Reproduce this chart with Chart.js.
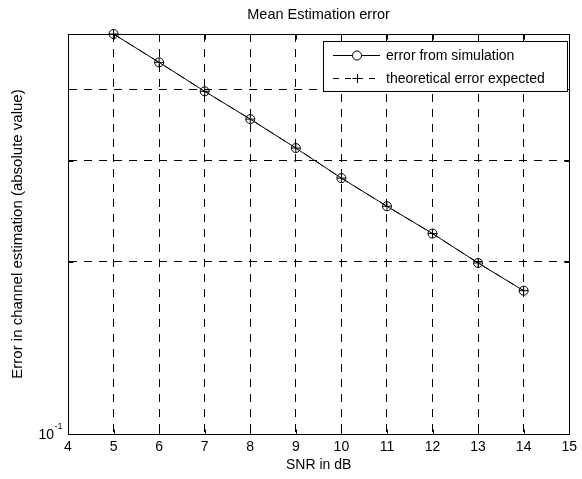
<!DOCTYPE html>
<html><head><meta charset="utf-8">
<script src="https://cdn.jsdelivr.net/npm/chart.js@4/dist/chart.umd.min.js"></script>
<style>html,body{margin:0;padding:0;background:#fff}#wrap{width:582px;height:479px;position:relative}</style>
</head><body><div id="wrap"><canvas id="c" width="582" height="479"></canvas></div>
<script>
const snrDb = [5, 6, 7, 8, 9, 10, 11, 12, 13, 14];
const simError = [0.500, 0.446, 0.397, 0.355, 0.316, 0.280, 0.250, 0.224, 0.199, 0.178];
const theoError = [0.500, 0.446, 0.397, 0.355, 0.316, 0.280, 0.250, 0.224, 0.199, 0.178];
const xTicks = [4, 5, 6, 7, 8, 9, 10, 11, 12, 13, 14, 15];
const yTicks = [0.1, 0.2, 0.3, 0.4, 0.5];
const yTickLabelBase = '10';
const yTickLabelExp = '-1';
const seriesLabels = ['error from simulation', 'theoretical error expected'];
const titleText = 'Mean Estimation error';
const xTitle = 'SNR in dB';
const yTitle = 'Error in channel estimation (absolute value)';

const FONT = 'Liberation Sans, Arial, sans-serif';
const DASH = [8, 7];

const decorPlugin = {
  id: 'decor',
  afterDraw(chart) {
    const ctx = chart.ctx;
    const ca = chart.chartArea;
    const xs = chart.scales.x, ys = chart.scales.y;
    ctx.save();
    ctx.strokeStyle = '#000';
    ctx.lineWidth = 1;
    ctx.setLineDash([]);
    const L = Math.round(ca.left) + 0.5, R = Math.round(ca.right) + 0.5;
    const T = Math.round(ca.top) + 0.5, B = Math.round(ca.bottom) + 0.5;
    ctx.strokeRect(L, T, R - L, B - T);
    ctx.beginPath();
    xTicks.forEach(v => {
      const px = Math.round(xs.getPixelForValue(v)) + 0.5;
      ctx.moveTo(px, B); ctx.lineTo(px, B - 5);
      ctx.moveTo(px, T); ctx.lineTo(px, T + 5);
    });
    yTicks.forEach(v => {
      const py = Math.round(ys.getPixelForValue(v)) + 0.5;
      ctx.moveTo(L, py); ctx.lineTo(L + 5, py);
      ctx.moveTo(R, py); ctx.lineTo(R - 5, py);
    });
    ctx.stroke();
    // y tick label 10^-1
    ctx.fillStyle = '#000';
    const y01 = ys.getPixelForValue(yTicks[0]);
    ctx.font = '14px ' + FONT;
    ctx.textAlign = 'right';
    ctx.textBaseline = 'middle';
    ctx.fillText(yTickLabelBase, 54, y01 + 1);
    ctx.font = '9px ' + FONT;
    ctx.textAlign = 'left';
    ctx.fillText(yTickLabelExp, 54.5, y01 - 7);
    // title
    ctx.font = '14.5px ' + FONT;
    ctx.textAlign = 'center';
    ctx.textBaseline = 'middle';
    ctx.fillText(titleText, (ca.left + ca.right) / 2, 15);
    // legend
    const lg = {left: 323, top: 41, right: 567, bottom: 91};
    ctx.fillStyle = '#fff';
    ctx.fillRect(lg.left, lg.top, lg.right - lg.left, lg.bottom - lg.top);
    ctx.strokeStyle = '#000';
    ctx.strokeRect(lg.left + 0.5, lg.top + 0.5, lg.right - lg.left, lg.bottom - lg.top);
    const rows = [lg.top + 14, lg.top + 37];
    const lx1 = 333, lx2 = 380, mx = 357;
    ctx.beginPath();
    ctx.moveTo(lx1, rows[0] + 0.5); ctx.lineTo(lx2, rows[0] + 0.5);
    ctx.stroke();
    ctx.beginPath();
    ctx.arc(mx, rows[0] + 0.5, 4.5, 0, Math.PI * 2);
    ctx.fillStyle = '#fff';
    ctx.fill();
    ctx.stroke();
    ctx.setLineDash([6, 6]);
    ctx.beginPath();
    ctx.moveTo(lx1, rows[1] + 0.5); ctx.lineTo(lx2, rows[1] + 0.5);
    ctx.stroke();
    ctx.setLineDash([]);
    ctx.beginPath();
    ctx.moveTo(mx - 4.5, rows[1] + 0.5); ctx.lineTo(mx + 4.5, rows[1] + 0.5);
    ctx.moveTo(mx + 0.5, rows[1] - 4); ctx.lineTo(mx + 0.5, rows[1] + 5);
    ctx.stroke();
    ctx.fillStyle = '#000';
    ctx.font = '14px ' + FONT;
    ctx.textAlign = 'left';
    ctx.textBaseline = 'middle';
    ctx.fillText(seriesLabels[0], 386, rows[0] + 1);
    ctx.fillText(seriesLabels[1], 386, rows[1] + 1);
    ctx.restore();
  }
};

new Chart(document.getElementById('c'), {
  type: 'line',
  data: {
    datasets: [
      {
        label: seriesLabels[0],
        data: snrDb.map((x, i) => ({x: x, y: simError[i]})),
        borderColor: '#000', borderWidth: 1,
        pointStyle: 'circle', pointRadius: 4.5, pointBorderWidth: 1,
        pointBorderColor: '#000', pointBackgroundColor: 'rgba(0,0,0,0)',
        fill: false, tension: 0, clip: false
      },
      {
        label: seriesLabels[1],
        data: snrDb.map((x, i) => ({x: x, y: theoError[i]})),
        borderColor: '#000', borderWidth: 1, borderDash: DASH,
        pointStyle: 'cross', pointRadius: 4.5, pointBorderWidth: 1,
        pointBorderColor: '#000', pointBackgroundColor: 'rgba(0,0,0,0)',
        fill: false, tension: 0, clip: false
      }
    ]
  },
  options: {
    responsive: false,
    animation: false,
    devicePixelRatio: 1,
    layout: {padding: {top: 34, right: 9, left: 0, bottom: 0}},
    plugins: {legend: {display: false}, title: {display: false}, tooltip: {enabled: false}},
    scales: {
      x: {
        type: 'linear', min: 4, max: 15,
        afterBuildTicks: s => { s.ticks = xTicks.map(v => ({value: v})); },
        afterFit: s => { s.height = 45; },
        grid: {color: '#000', lineWidth: 1, drawTicks: false},
        border: {display: true, color: '#000', width: 1, dash: DASH},
        ticks: {color: '#000', font: {family: FONT, size: 14}, padding: 5, maxRotation: 0, autoSkip: false},
        title: {display: true, text: xTitle, color: '#000', font: {family: FONT, size: 14}, padding: {top: 0, bottom: 5}}
      },
      y: {
        type: 'logarithmic', min: 0.1, max: 0.5,
        afterBuildTicks: s => { s.ticks = yTicks.map(v => ({value: v})); },
        afterFit: s => { s.width = 68; },
        grid: {color: '#000', lineWidth: 1, drawTicks: false},
        border: {display: true, color: '#000', width: 1, dash: DASH},
        ticks: {display: false},
        title: {display: true, text: yTitle, color: '#000', font: {family: FONT, size: 15}, padding: {top: 9, bottom: 0}}
      }
    }
  },
  plugins: [decorPlugin]
});
</script>
</body></html>
